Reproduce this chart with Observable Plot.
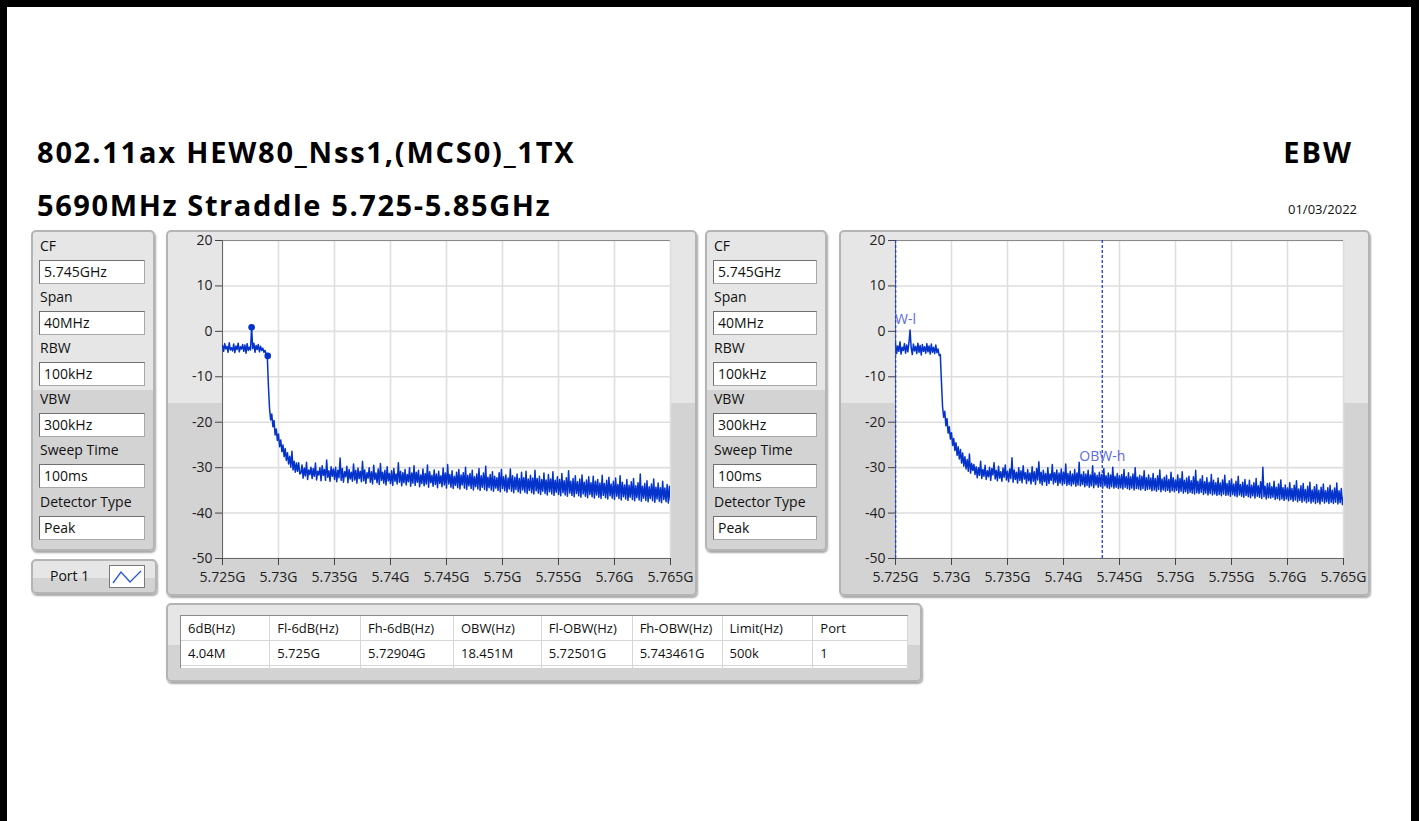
<!DOCTYPE html>
<html><head><meta charset="utf-8">
<script src="https://cdn.jsdelivr.net/npm/d3@7"></script>
<script src="https://cdn.jsdelivr.net/npm/@observablehq/plot@0.6"></script>
<style>
body{margin:0;background:#fff;}
#page{position:relative;width:1419px;height:821px;overflow:hidden;background:#fff;font-family:"Open Sans",sans-serif;}
.bl{position:absolute;background:#000;}
.title{position:absolute;font-weight:700;font-size:29px;line-height:29px;color:#000;white-space:nowrap;letter-spacing:1.8px;}
.panel{position:absolute;box-sizing:border-box;border:2px solid #b4b4b4;border-radius:5px;box-shadow:1px 2px 2px rgba(0,0,0,0.35);}
.lbl{position:absolute;font-size:14px;line-height:14px;color:#111;white-space:nowrap;}
.box{position:absolute;box-sizing:border-box;background:#fff;border:1px solid #a8a8a8;border-top-color:#707070;border-left-color:#707070;font-size:14px;padding-left:4px;line-height:22px;height:24px;color:#111;white-space:nowrap;}
table{border-collapse:collapse;table-layout:fixed;font-size:13px;color:#111;}
td{border-right:1px solid #d6d6d6;border-bottom:1px solid #d6d6d6;height:24px;padding:0 0 0 7px;white-space:nowrap;overflow:hidden;}
</style></head>
<body>
<div id="page"></div>
<script>
// ---------- data ----------
const titleLine1 = "802.11ax HEW80_Nss1,(MCS0)_1TX";
const titleLine2 = "5690MHz Straddle 5.725-5.85GHz";
const testName = "EBW";
const testDate = "01/03/2022";

const settingLabels = ["CF","Span","RBW","VBW","Sweep Time","Detector Type"];
const settingValues = ["5.745GHz","40MHz","100kHz","300kHz","100ms","Peak"];
const legendLabel = "Port 1";

const xTicks = [5.725,5.73,5.735,5.74,5.745,5.75,5.755,5.76,5.765];
const xTickLabels = ["5.725G","5.73G","5.735G","5.74G","5.745G","5.75G","5.755G","5.76G","5.765G"];
const yTicks = [-50,-40,-30,-20,-10,0,10,20];
const yTickLabels = ["-50","-40","-30","-20","-10","0","10","20"];

// sweep bins (GHz): 401 bins from 5.725 GHz, 0.1 MHz apart
const sweepStartGHz = 5.725;
const sweepStepGHz = 0.0001;

// left trace (dBm)
const leftTrace = [
-3.1,-4.4,-2.7,-3.9,-3.3,-4.6,-2.5,-4.1,-3.6,-4.3,
-2.8,-4.7,-3.2,-4.0,-2.6,-4.5,-3.4,-3.9,-2.9,-4.4,
-3.0,-4.8,-2.7,-4.2,-3.5,-4.1,0.9,-3.8,-2.6,-4.6,
-3.1,-4.0,-2.9,-4.5,-3.3,-4.2,-3.7,-4.6,-4.2,-5.0,
-5.4,-12.0,-17.0,-19.5,-18.2,-21.0,-19.6,-22.8,-21.5,-24.0,
-22.6,-25.4,-23.9,-26.5,-25.0,-27.6,-25.8,-28.4,-26.7,-29.2,
-27.5,-29.9,-26.4,-30.5,-28.6,-31.0,-29.0,-30.8,-28.9,-31.4,
-31.2,-29.4,-32.3,-30.1,-31.8,-28.8,-32.6,-30.5,-31.5,-29.9,
-32.4,-30.2,-31.9,-29.0,-32.7,-30.8,-31.6,-30.0,-32.9,-29.6,
-31.7,-30.4,-32.8,-28.3,-32.1,-30.7,-33.0,-29.8,-31.9,-30.3,
-32.6,-29.9,-33.1,-30.6,-32.2,-27.9,-32.8,-30.2,-33.2,-30.9,
-32.0,-29.7,-33.3,-30.4,-32.5,-31.0,-33.0,-29.2,-32.7,-30.6,
-33.4,-30.1,-32.4,-30.8,-33.1,-28.6,-32.9,-30.5,-33.5,-31.1,
-32.3,-30.0,-33.2,-30.9,-33.6,-29.5,-32.6,-31.2,-33.3,-30.3,
-33.7,-29.1,-32.8,-31.0,-33.4,-30.6,-33.8,-29.8,-32.9,-31.3,
-33.5,-30.7,-33.9,-30.2,-33.0,-31.4,-33.6,-28.9,-33.2,-30.8,
-34.0,-31.1,-33.3,-30.4,-33.8,-31.5,-33.1,-30.0,-34.1,-31.2,
-33.4,-29.6,-33.9,-31.0,-33.2,-30.6,-34.2,-31.6,-33.5,-30.3,
-34.0,-31.3,-33.6,-29.4,-34.3,-30.9,-33.3,-31.7,-34.1,-30.5,
-33.7,-31.4,-34.4,-30.8,-33.5,-31.8,-34.2,-30.1,-33.8,-31.2,
-34.5,-29.3,-33.6,-31.5,-34.3,-30.7,-34.6,-31.9,-33.9,-31.0,
-34.4,-30.4,-34.7,-31.6,-33.8,-31.1,-34.5,-29.9,-34.8,-31.7,
-34.0,-31.3,-34.6,-30.6,-34.9,-32.0,-34.2,-31.4,-34.7,-30.2,
-35.0,-31.8,-34.3,-31.2,-34.8,-29.7,-35.1,-32.1,-34.4,-31.5,
-34.9,-30.9,-35.2,-31.9,-34.5,-32.2,-35.0,-31.1,-35.3,-30.4,
-34.6,-32.0,-35.1,-31.6,-35.4,-32.3,-34.7,-30.3,-35.2,-31.8,
-35.5,-32.1,-34.8,-31.4,-35.3,-32.4,-35.6,-31.0,-34.9,-32.2,
-35.4,-30.8,-35.7,-32.5,-35.0,-31.7,-35.5,-32.3,-35.8,-30.6,
-35.1,-32.4,-35.6,-31.9,-35.9,-32.6,-35.2,-31.2,-35.7,-32.7,
-36.0,-31.5,-35.3,-32.5,-35.8,-30.9,-36.1,-32.8,-35.4,-32.0,
-35.9,-32.6,-36.2,-31.3,-35.5,-32.9,-36.0,-32.2,-36.3,-30.7,
-35.6,-33.0,-36.1,-32.4,-36.4,-31.8,-35.7,-33.1,-36.2,-32.5,
-36.5,-31.6,-35.8,-33.2,-36.3,-32.7,-36.6,-32.0,-35.9,-33.3,
-36.4,-31.9,-36.7,-33.0,-36.0,-32.6,-36.5,-33.4,-36.8,-31.7,
-36.1,-33.5,-36.6,-32.8,-36.9,-32.1,-36.2,-33.6,-36.7,-33.0,
-37.0,-32.3,-36.3,-33.7,-36.8,-31.8,-37.1,-33.2,-36.4,-33.8,
-36.9,-32.6,-37.2,-33.9,-36.5,-33.1,-37.0,-32.4,-37.3,-34.0,
-36.6,-33.3,-37.1,-31.4,-37.4,-34.1,-36.7,-33.5,-37.2,-32.9,
-37.5,-34.2,-36.8,-33.6,-37.3,-32.5,-37.6,-34.3,-36.9,-33.4,
-37.4,-34.4,-37.7,-33.0,-37.0,-34.5,-37.5,-33.7,-37.8,-34.1,
-37.3
];

// right trace (dBm)
const rightTrace = [
-2.6,-4.9,-3.2,-4.4,-2.3,-5.0,-3.5,-4.2,-2.7,-4.8,
-3.0,-4.5,-2.5,0.3,-3.6,-5.1,-2.8,-4.3,-3.3,-4.9,
-2.6,-4.6,-3.1,-5.2,-2.9,-4.4,-3.4,-4.8,-2.7,-4.5,
-3.2,-5.0,-2.8,-4.6,-3.5,-4.9,-3.0,-4.7,-3.9,-5.3,
-5.1,-11.0,-16.5,-18.9,-17.6,-20.8,-19.2,-22.4,-21.0,-23.7,
-22.3,-25.1,-23.6,-26.2,-24.5,-27.3,-25.4,-28.1,-26.0,-29.0,
-26.8,-29.7,-27.6,-30.3,-28.2,-30.8,-27.0,-31.2,-29.1,-30.6,
-29.3,-31.5,-29.8,-32.2,-30.0,-31.7,-28.6,-32.4,-30.4,-31.9,
-29.5,-32.6,-30.7,-32.0,-29.9,-32.8,-30.2,-31.6,-28.9,-32.5,
-30.6,-32.9,-29.7,-32.3,-30.9,-33.0,-30.1,-32.1,-29.4,-32.7,
-30.8,-33.1,-30.3,-32.4,-27.8,-33.2,-30.5,-32.6,-31.0,-33.4,
-30.0,-32.8,-30.7,-33.3,-29.6,-32.5,-31.1,-33.5,-30.4,-32.9,
-31.2,-33.6,-29.8,-33.0,-30.9,-33.7,-30.2,-32.7,-28.7,-33.4,
-31.0,-33.8,-30.6,-33.1,-31.3,-33.9,-30.0,-33.5,-31.4,-32.8,
-29.3,-33.6,-31.1,-33.2,-30.5,-33.9,-31.2,-33.4,-30.3,-33.8,
-31.0,-33.5,-29.2,-33.9,-31.3,-33.7,-30.8,-34.0,-31.4,-33.6,
-30.4,-34.1,-31.2,-33.8,-28.8,-34.0,-31.5,-33.7,-30.9,-34.2,
-31.4,-33.9,-30.6,-34.3,-31.6,-34.0,-29.6,-34.4,-31.2,-33.8,
-31.7,-34.3,-31.0,-34.1,-31.5,-34.5,-30.2,-34.0,-31.8,-34.4,
-31.2,-34.6,-31.6,-34.2,-29.9,-34.5,-31.9,-34.3,-31.3,-34.6,
-31.8,-34.4,-31.5,-34.7,-30.4,-34.3,-32.0,-34.6,-31.1,-34.8,
-32.0,-34.5,-31.4,-34.9,-30.0,-34.6,-32.1,-34.7,-31.7,-34.9,
-31.9,-34.6,-30.7,-35.0,-32.2,-34.8,-31.6,-34.7,-32.3,-35.1,
-31.3,-34.9,-32.4,-35.2,-31.8,-34.8,-30.5,-35.3,-32.5,-34.9,
-32.1,-35.2,-31.7,-35.0,-32.6,-35.4,-31.0,-35.1,-32.2,-35.3,
-32.7,-35.0,-31.6,-35.5,-32.4,-35.2,-30.9,-35.6,-32.8,-35.3,
-32.3,-35.7,-31.9,-35.4,-32.9,-35.6,-32.0,-35.8,-30.6,-35.5,
-33.0,-35.7,-32.5,-35.4,-31.8,-35.9,-33.1,-35.6,-32.2,-36.0,
-33.2,-35.7,-31.5,-36.0,-32.8,-35.8,-33.3,-36.1,-32.3,-35.9,
-33.4,-36.2,-32.7,-35.8,-31.7,-36.1,-33.5,-36.0,-32.9,-36.3,
-32.5,-35.9,-33.6,-36.2,-33.0,-36.4,-31.9,-36.0,-33.7,-36.3,
-33.2,-36.5,-32.6,-36.1,-33.8,-36.4,-32.8,-36.6,-33.9,-36.2,
-33.3,-36.7,-32.4,-36.3,-34.0,-36.5,-33.1,-36.8,-29.9,-36.4,
-34.1,-36.9,-33.5,-36.6,-33.4,-36.7,-34.2,-36.5,-33.0,-37.0,
-34.3,-36.8,-33.6,-37.1,-32.7,-36.9,-34.4,-37.2,-33.8,-36.9,
-34.5,-37.3,-33.3,-37.0,-34.6,-37.4,-33.9,-37.1,-32.9,-37.5,
-34.7,-37.2,-34.0,-37.6,-33.5,-37.3,-34.8,-37.7,-34.1,-37.4,
-33.2,-37.8,-34.9,-37.5,-34.2,-37.9,-33.7,-37.6,-35.0,-38.0,
-34.3,-37.4,-33.6,-37.8,-35.1,-37.5,-34.4,-37.9,-33.9,-37.6,
-35.0,-37.9,-34.5,-37.6,-33.4,-38.0,-35.1,-37.7,-34.6,-38.1,
-36.5
];

// left chart markers: peak and 6 dB high edge
const leftMarkerFreqs = [5.7276, 5.72904];
const leftMarkerDb = [0.9, -5.4];

// right chart OBW cursors
const cursorNames = ["OBW-l","OBW-h"];
const cursorFreqs = [5.72501, 5.743461];
const cursorLabelDb = [2.6, -27.6];

// result table
const tableHeaders = ["6dB(Hz)","Fl-6dB(Hz)","Fh-6dB(Hz)","OBW(Hz)","Fl-OBW(Hz)","Fh-OBW(Hz)","Limit(Hz)","Port"];
const tableValues = ["4.04M","5.725G","5.72904G","18.451M","5.72501G","5.743461G","500k","1"];

// ---------- layout ----------
const page = document.getElementById("page");
function el(tag, cls, css, text){
  const e = document.createElement(tag);
  if (cls) e.className = cls;
  if (css) Object.assign(e.style, css);
  if (text != null) e.textContent = text;
  page.appendChild(e);
  return e;
}
const px = v => v + "px";

// frame borders
el("div","bl",{left:"0px",top:"0px",width:"7px",height:"821px"});
el("div","bl",{left:"0px",top:"0px",width:"1419px",height:"7px"});
el("div","bl",{left:"1411px",top:"0px",width:"8px",height:"821px"});

// titles
el("div","title",{left:"37px",top:"137px"},titleLine1);
el("div","title",{left:"37px",top:"190px",letterSpacing:"1.6px"},titleLine2);
el("div","title",{right:"66px",top:"137px",letterSpacing:"2px"},testName);
el("div","lbl",{right:"62px",top:"203px",fontSize:"13px",lineHeight:"13px"},testDate);

// panels
function panel(x,y,w,h,stop){
  return el("div","panel",{left:px(x),top:px(y),width:px(w),height:px(h),
    background:`linear-gradient(to bottom,#e6e6e6 0px,#e6e6e6 ${stop}px,#d3d3d3 ${stop}px,#d3d3d3 100%)`});
}
function settingsPanel(x, w, boxX, boxW){
  panel(x,230,w,321,158);
  settingLabels.forEach((lab,k)=>{
    const boxTop = 260 + Math.round(k*51.1);
    el("div","lbl",{left:px(boxX+1),top:px(boxTop-21)},lab);
    el("div","box",{left:px(boxX),top:px(boxTop),width:px(boxW)},settingValues[k]);
  });
}
settingsPanel(31,124,39,106);
settingsPanel(705,122,713,104);

// chart panels
panel(166,230,531,366,171);
panel(839,230,531,366,171);

// legend
panel(31,559,126,35,17);
el("div","lbl",{left:"50px",top:"569px"},legendLabel);
const sw = el("div",null,{position:"absolute",left:"109px",top:"565px",width:"36px",height:"23px",boxSizing:"border-box",background:"#fff",border:"1px solid #7a7a7a"});
sw.innerHTML = '<svg width="34" height="21"><polyline points="3,17 11,6 20,16 31,5" fill="none" stroke="#2a55d8" stroke-width="1.3"/></svg>';

// table
panel(166,603,756,79,40);
const tWrap = el("div",null,{position:"absolute",left:"180px",top:"615px",width:"728px",height:"53px",overflow:"hidden",background:"#fff",borderTop:"1px solid #8c8c8c",borderLeft:"1px solid #8c8c8c",boxSizing:"border-box"});
const colW = [89,91,93,88,91,90,91,95];
let html = "<table><colgroup>" + colW.map(w=>`<col style="width:${w}px">`).join("") + "</colgroup>";
html += "<tr>" + tableHeaders.map(h=>`<td>${h}</td>`).join("") + "</tr>";
html += "<tr>" + tableValues.map(v=>`<td>${v}</td>`).join("") + "</tr>";
html += "<tr>" + tableHeaders.map(()=>`<td></td>`).join("") + "</tr></table>";
tWrap.innerHTML = html;

// ---------- charts ----------
const traceColor = "#0433cc";
const fmtX = d => xTickLabels[xTicks.indexOf(d)];
const fmtY = d => yTickLabels[yTicks.indexOf(d)];

function spectrum(trace, extraMarks){
  const data = trace.map((db,i)=>({f: sweepStartGHz + i*sweepStepGHz, db}));
  return Plot.plot({
    width:531, height:366,
    marginLeft:56, marginRight:27, marginTop:10, marginBottom:38,
    style:{background:"transparent", fontSize:"14px", fontFamily:"'Open Sans',sans-serif", color:"#222", overflow:"visible"},
    x:{domain:[5.725,5.765], label:null},
    y:{domain:[-50,20], label:null},
    marks:[
      Plot.frame({fill:"#ffffff", stroke:"none"}),
      Plot.gridX(xTicks,{stroke:"#dedede", strokeOpacity:1, strokeWidth:1.6}),
      Plot.gridY(yTicks,{stroke:"#dedede", strokeOpacity:1, strokeWidth:1.6}),
      Plot.ruleY([20],{stroke:"#8a8a8a"}),
      Plot.ruleY([-50],{stroke:"#666"}),
      Plot.ruleX([5.725],{stroke:"#666"}),
      Plot.axisX(xTicks,{tickFormat:fmtX, tickSize:7, tickPadding:7, stroke:"#444", fill:"#222", fontSize:14, label:null}),
      Plot.axisY(yTicks,{tickFormat:fmtY, tickSize:7, tickPadding:3, stroke:"#444", fill:"#222", fontSize:14, label:null}),
      Plot.line(data,{x:"f", y:"db", stroke:traceColor, strokeWidth:1.5, clip:true}),
      ...extraMarks
    ]
  });
}

const leftMarkers = leftMarkerFreqs.map((f,i)=>({f, db:leftMarkerDb[i]}));
const leftChart = spectrum(leftTrace, [
  Plot.dot(leftMarkers,{x:"f", y:"db", r:3.3, fill:traceColor, stroke:"none"})
]);
Object.assign(leftChart.style,{position:"absolute", left:"166px", top:"230px"});
page.appendChild(leftChart);

const cursors = cursorFreqs.map((f,i)=>({f, name:cursorNames[i], db:cursorLabelDb[i]}));
const rightChart = spectrum(rightTrace, [
  Plot.ruleX(cursors,{x:"f", stroke:"#1f40da", strokeWidth:1.3, strokeDasharray:"3,2"}),
  Plot.text(cursors,{x:"f", y:"db", text:"name", fill:"#5c6ae2", fontSize:14, clip:true})
]);
Object.assign(rightChart.style,{position:"absolute", left:"839px", top:"230px"});
page.appendChild(rightChart);
</script>
</body></html>
